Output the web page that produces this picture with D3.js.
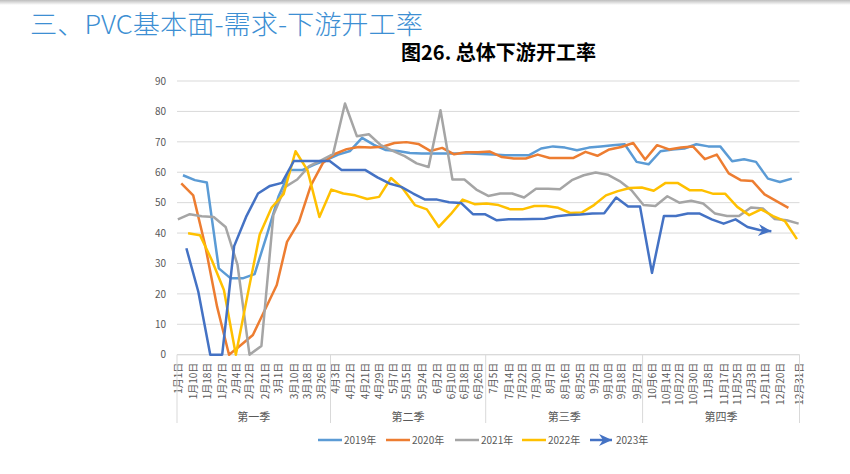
<!DOCTYPE html>
<html><head><meta charset="utf-8">
<script src="https://cdn.jsdelivr.net/npm/d3@7"></script>
<style>
body{margin:0;background:#fff}
svg{display:block}
text{font-family:"Noto Sans CJK SC","Noto Sans",sans-serif}
</style>
</head><body>
<svg id="c" width="850" height="474"></svg>
<script>
// ---------- data ----------
const tickLabels = ["1月1日","1月10日","1月18日","1月27日","2月4日","2月12日","2月21日","3月1日","3月10日","3月18日","3月26日",
  "4月3日","4月12日","4月21日","4月29日","5月7日","5月15日","5月24日","6月2日","6月10日","6月18日","6月26日",
  "7月5日","7月14日","7月22日","7月30日","8月7日","8月16日","8月25日","9月2日","9月10日","9月18日","9月27日",
  "10月6日","10月14日","10月22日","10月30日","11月8日","11月17日","11月25日","12月3日","12月11日","12月20日","12月31日"];
const quarters = ["第一季","第二季","第三季","第四季"];
const seriesNames = ["2019年","2020年","2021年","2022年","2023年"];
const firstDates = ["2019-01-04","2020-01-03","2021-01-01","2022-01-07","2023-01-06"]; // weekly (Friday) observations
const v2019 = [59.0,57.4,56.6,28.4,25.1,25.1,26.5,39,52,60.7,60.7,62.5,64,65.8,67,71.3,69,67.3,67,66.3,66.2,66.2,66.2,66.2,66.2,66,65.8,65.6,65.6,65.6,67.8,68.5,68.1,67.2,68.1,68.5,68.9,69.2,63.4,62.6,66.9,67.5,67.8,69.2,68.5,68.5,63.6,64.3,63.4,57.9,56.8,57.9];
const v2020 = [56.3,52.4,36,15.8,0,3.2,6.5,14.7,22.9,37.1,43.7,55.7,63,66,67.6,68.3,68.1,68.4,69.6,69.9,69.3,67,68,65.9,66.6,66.6,66.8,65,64.5,64.5,65.8,64.7,64.7,64.7,66.7,65.4,67.5,68.3,69.6,64.2,68.9,67.5,68.1,68.5,64.3,65.8,59.6,57.4,57.1,52.7,50.5,48.3];
const v2021 = [44.5,46.2,45.5,45.3,42,29.5,0,2.9,45.9,55.2,57.6,62,63.9,66,82.6,71.8,72.5,68.9,67,65.3,62.9,61.7,80.4,57.6,57.6,54.3,52.2,53,53,51.7,54.6,54.6,54.4,57.4,59,59.9,59.2,57.1,54.1,49.2,48.9,52.1,50,50.6,49.7,46.4,45.6,45.6,48.4,48.1,44.6,44.2,43.1];
const v2022 = [39.9,39.3,31,21.3,0,20,39.5,48.4,52.8,66.9,60.7,45.3,54.3,53,52.4,51.2,51.9,58.1,54.6,49.2,47.8,42,46.2,51,49.5,49.7,49.2,47.8,47.8,48.9,48.9,48.3,46.6,46.8,49.2,52.4,53.8,54.8,55,53.9,56.5,56.5,54.1,54.1,52.9,52.9,48.6,45.9,47.8,45.6,43.9,38];
const v2023 = [35,20.7,0,0,35.7,45.3,53,55.5,56.5,63.7,63.7,63.7,63.7,60.7,60.7,60.7,58.3,56.3,55.2,53,51,51,50.1,49.9,46.2,46.2,44.2,44.5,44.5,44.6,44.7,45.5,45.9,46.1,46.4,46.5,51.7,48.7,48.7,26.9,45.6,45.6,46.4,46.4,44.5,43.1,44.5,42,41,40.6];
const seriesValues = [v2019, v2020, v2021, v2022, v2023];
const colors = ["#5B9BD5","#ED7D31","#A5A5A5","#FFC000","#4472C4"];
const yTicks = [0,10,20,30,40,50,60,70,80,90];

// ---------- setup ----------
const svg = d3.select("#c");
const L = 177, R = 799.5, T = 81, B = 354.7;
const x = d3.scaleTime().domain([new Date(2023,0,1), new Date(2024,0,1)]).range([L, R]);
const y = d3.scaleLinear().domain([0,90]).range([B, T]);
const mid = d => d3.timeHour.offset(d, 12);
const toRef = d => new Date(2023, d.getMonth(), d.getDate());

// top shadow
const defs = svg.append("defs");
const g0 = defs.append("linearGradient").attr("id","sh").attr("x1",0).attr("x2",0).attr("y1",0).attr("y2",1);
g0.append("stop").attr("offset","0%").attr("stop-color","#bdbdbd");
g0.append("stop").attr("offset","100%").attr("stop-color","#ffffff");
svg.append("rect").attr("x",0).attr("y",0).attr("width",850).attr("height",5).attr("fill","url(#sh)");

// arrow marker
defs.append("marker").attr("id","arr").attr("markerUnits","userSpaceOnUse")
  .attr("viewBox","-4 -8 16 16").attr("markerWidth",16).attr("markerHeight",16)
  .attr("refX",10).attr("refY",0).attr("orient","auto")
  .append("path").attr("d","M-3,-6 L10,0 L-3,6 L1,0 Z").attr("fill",colors[4]);

// titles
svg.append("text").attr("x",30).attr("y",34).attr("font-size",26).attr("font-weight",300)
  .attr("fill","#3D8FD3").attr("textLength",393).attr("lengthAdjust","spacingAndGlyphs")
  .text("三、PVC基本面-需求-下游开工率");
svg.append("text").attr("x",401).attr("y",60).attr("font-size",20).attr("font-weight",700)
  .attr("fill","#000").attr("textLength",195).attr("lengthAdjust","spacingAndGlyphs")
  .text("图26. 总体下游开工率");

// gridlines
svg.append("g").selectAll("line").data(yTicks).join("line")
  .attr("x1",L).attr("x2",R).attr("y1",d=>y(d)).attr("y2",d=>y(d))
  .attr("stroke","#D9D9D9").attr("stroke-width",1);

// y axis
const ya = svg.append("g").attr("transform",`translate(${L},0)`)
  .call(d3.axisLeft(y).tickValues(yTicks).tickSize(0).tickPadding(11));
ya.select(".domain").remove();
ya.selectAll("text").attr("font-size",10).attr("fill","#595959").style("font-family","'Noto Sans CJK SC',sans-serif");

// x axis with date labels
const tickDates = tickLabels.map(s => { const m = s.match(/(\d+)月(\d+)日/); return new Date(2023, +m[1]-1, +m[2]); });
const xa = svg.append("g").attr("transform",`translate(0,${B})`)
  .call(d3.axisBottom(x).tickValues(tickDates.map(mid)).tickSize(0)
    .tickFormat((d,i)=>tickLabels[i]));
xa.select(".domain").remove();
xa.selectAll("text").attr("transform","rotate(-90)").attr("text-anchor","end")
  .attr("x",-8).attr("y",0).attr("dy","0.35em")
  .attr("font-size",10).attr("fill","#595959").style("font-family","'Noto Sans CJK SC',sans-serif");

// quarter grouping
const qBounds = d3.range(5).map(q => new Date(2023, 3*q, 1));
svg.append("g").selectAll("line").data(qBounds).join("line")
  .attr("x1",d=>x(d)).attr("x2",d=>x(d)).attr("y1",B).attr("y2",423)
  .attr("stroke","#D9D9D9").attr("stroke-width",1);
svg.append("line").attr("x1",L).attr("x2",R).attr("y1",B).attr("y2",B).attr("stroke","#D9D9D9");
svg.append("g").selectAll("text").data(quarters).join("text")
  .attr("x",(d,i)=>(x(qBounds[i])+x(qBounds[i+1]))/2).attr("y",421)
  .attr("text-anchor","middle").attr("font-size",11).attr("fill","#595959").text(d=>d);

// series
const line = d3.line().x(d=>x(mid(d.date))).y(d=>y(d.value));
seriesValues.forEach((vals, si) => {
  const start = d3.timeParse("%Y-%m-%d")(firstDates[si]);
  const pts = vals.map((v,i)=>({date: toRef(d3.timeDay.offset(start, 7*i)), value: v}));
  const p = svg.append("path").datum(pts).attr("d", line)
    .attr("fill","none").attr("stroke",colors[si]).attr("stroke-width",2.5)
    .attr("stroke-linejoin","round");
  if (si === 4) p.attr("marker-end","url(#arr)");
});

// legend
const legX = [318, 386, 455, 522, 590];
const lg = svg.append("g").selectAll("g").data(seriesNames).join("g")
  .attr("transform",(d,i)=>`translate(${legX[i]},440)`);
lg.append("line").attr("x1",0).attr("x2",(d,i)=>i===4?22:24).attr("y1",0).attr("y2",0)
  .attr("stroke",(d,i)=>colors[i]).attr("stroke-width",2.5)
  .attr("marker-end",(d,i)=>i===4?"url(#arr)":null);
lg.append("text").attr("x",26).attr("y",0).attr("dy","0.35em").attr("font-size",10)
  .attr("fill","#595959").text(d=>d);
</script>
</body></html>
